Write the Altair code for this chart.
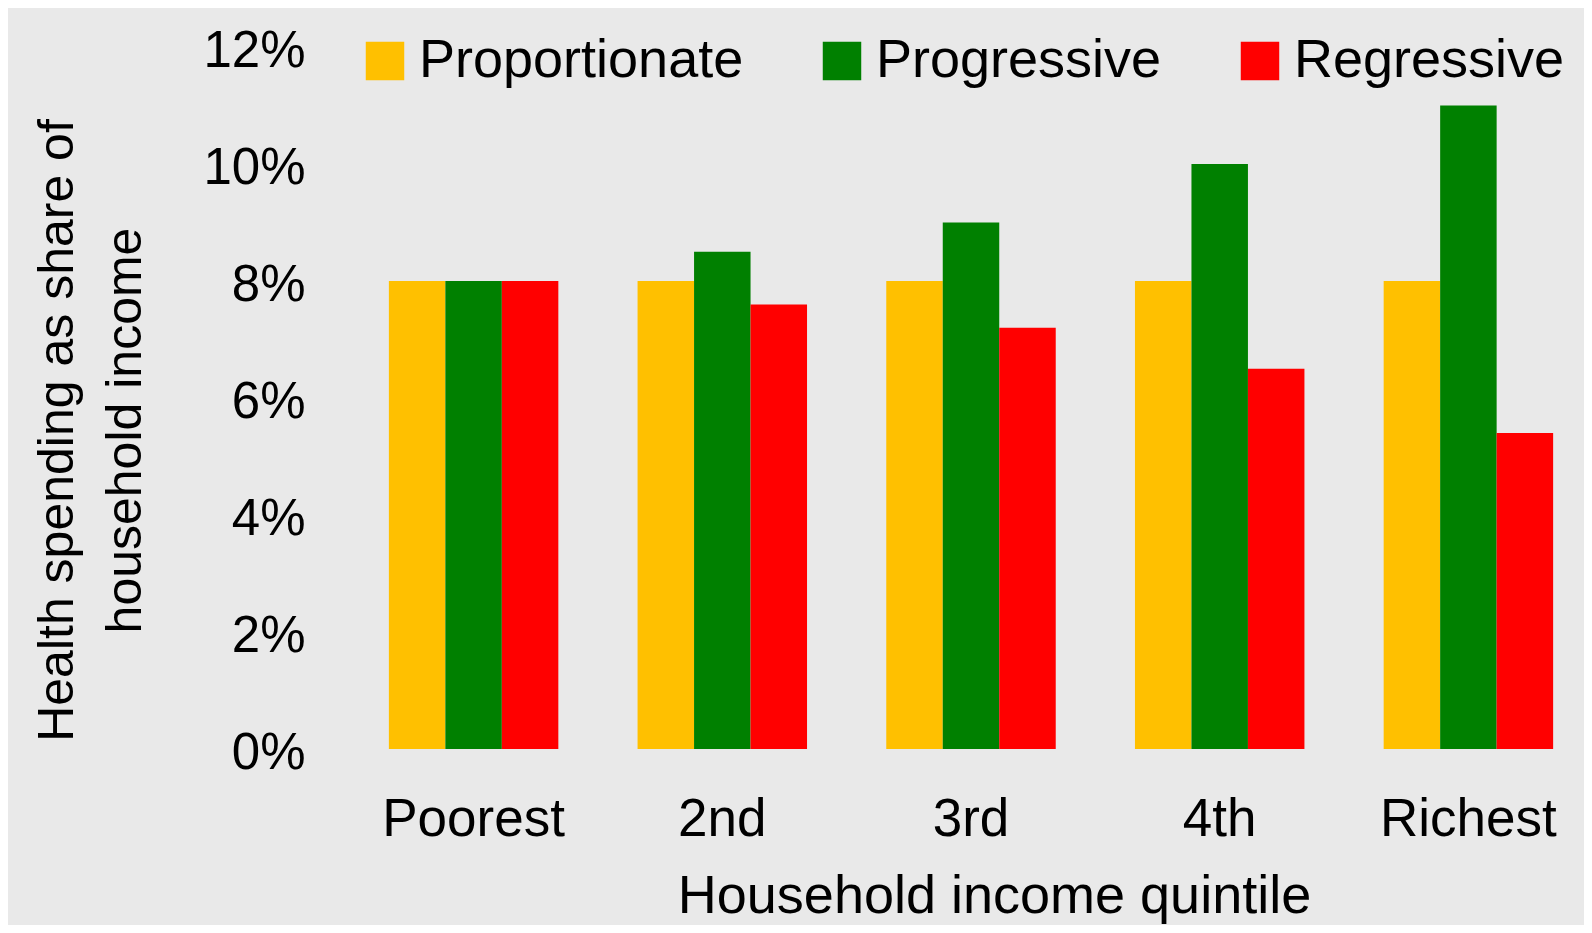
import altair as alt
import pandas as pd

# ---- data ----
quintiles = ["Poorest", "2nd", "3rd", "4th", "Richest"]
series = ["Proportionate", "Progressive", "Regressive"]
proportionate = [8.0, 8.0, 8.0, 8.0, 8.0]
progressive = [8.0, 8.5, 9.0, 10.0, 11.0]
regressive = [8.0, 7.6, 7.2, 6.5, 5.4]
colors = ["#FFC000", "#008000", "#FF0000"]
y_ticks = [0, 2, 4, 6, 8, 10, 12]

rows = []
for name, vals in zip(series, [proportionate, progressive, regressive]):
    for q, v in zip(quintiles, vals):
        rows.append({"quintile": q, "series": name, "value": v})
df = pd.DataFrame(rows)

FONT = "Liberation Sans"

chart = alt.Chart(df).mark_bar().encode(
    x=alt.X(
        "quintile:N",
        sort=quintiles,
        scale=alt.Scale(paddingInner=0.3186, paddingOuter=0.1),
        axis=alt.Axis(
            title="Household income quintile",
            labelAngle=0,
            labelFont=FONT,
            labelFontSize=53,
            labelColor="black",
            labelPadding=86,
            labelBaseline="alphabetic",
            labelLimit=1000,
            labelOverlap=False,
            ticks=False,
            tickSize=0,
            domain=False,
            grid=False,
            titleFont=FONT,
            titleFontSize=54,
            titleFontWeight="normal",
            titleColor="black",
            titleX=630,
            titleY=163,
            titleBaseline="alphabetic",
            titleAlign="center",
            titleLimit=2000,
        ),
    ),
    xOffset=alt.XOffset(
        "series:N", sort=series, scale=alt.Scale(paddingInner=0, paddingOuter=0)
    ),
    y=alt.Y(
        "value:Q",
        scale=alt.Scale(domain=[0, 12], nice=False),
        axis=alt.Axis(
            values=y_ticks,
            labelExpr="datum.value + '%'",
            labelFont=FONT,
            labelFontSize=51,
            labelColor="black",
            labelPadding=59,
            labelOffset=4,
            ticks=False,
            tickSize=0,
            domain=False,
            grid=False,
            title=["Health spending as share of", "household income"],
            titleFont=FONT,
            titleFontSize=50,
            titleFontWeight="normal",
            titleColor="black",
            titleAngle=270,
            titleAlign="center",
            titleBaseline="alphabetic",
            titleLineHeight=68,
            titleX=-292,
            titleY=383,
            titleLimit=2000,
        ),
    ),
    color=alt.Color(
        "series:N",
        sort=series,
        scale=alt.Scale(domain=series, range=colors),
        legend=alt.Legend(
            title=None,
            orient="none",
            legendX=-6,
            legendY=-13,
            direction="horizontal",
            symbolType="square",
            symbolSize=1480,
            symbolStrokeWidth=0,
            symbolOpacity=1,
            labelFont=FONT,
            labelFontSize=54,
            labelColor="black",
            labelOffset=7,
            labelLimit=1000,
            columnPadding=71,
            padding=0,
        ),
    ),
).properties(
    width=1214,
    height=702,
    autosize=alt.AutoSizeParams(type="none"),
    padding={"left": 356, "top": 39, "right": 6, "bottom": 176},
    background="#e9e9e9",
).configure_view(strokeWidth=0)

chart.save("out.html", embed_options={"renderer": "svg", "actions": False})
